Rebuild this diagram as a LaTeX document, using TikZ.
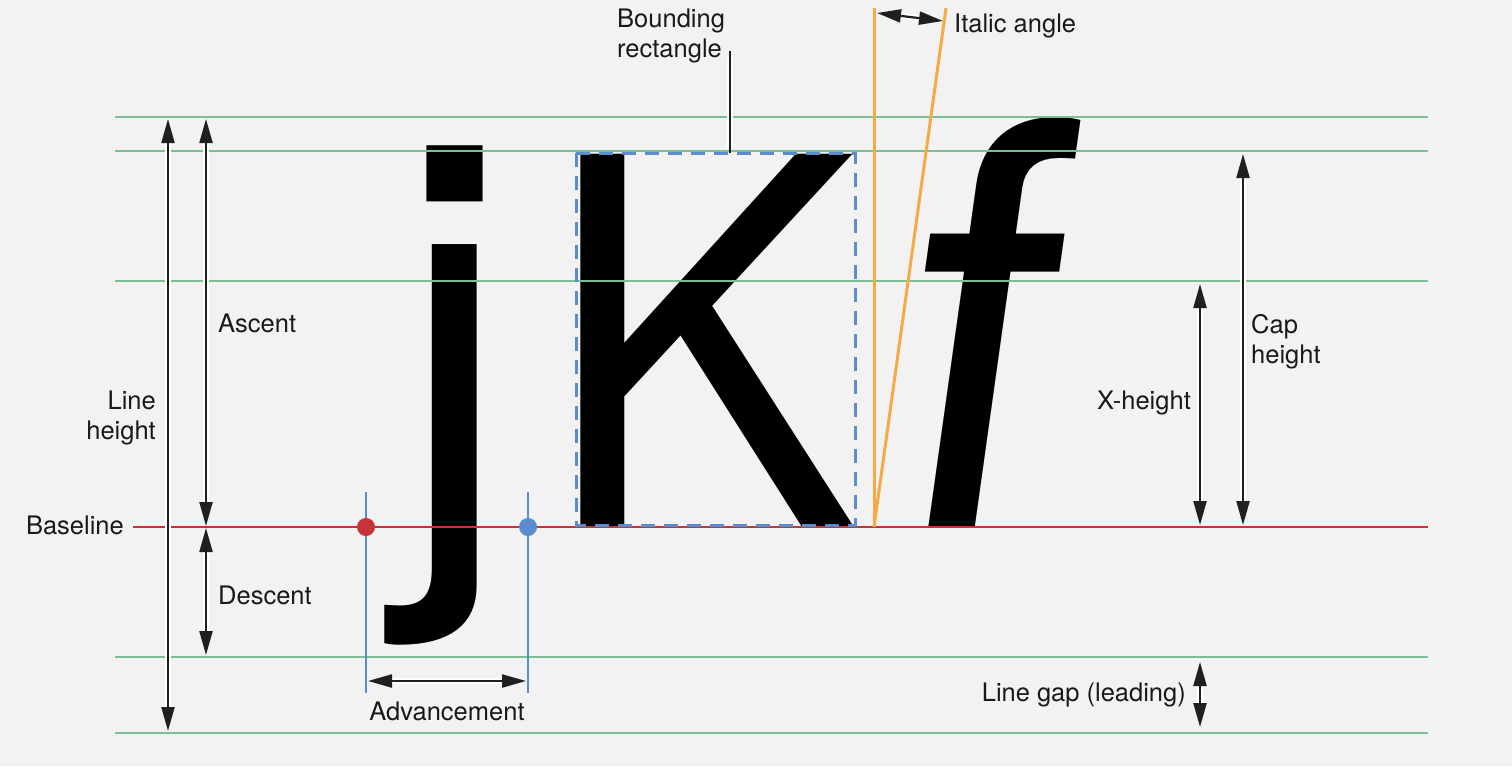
\documentclass[tikz,border=0pt]{standalone}
\usepackage{fontspec}
\setmainfont{TeX Gyre Heros}
\newfontfamily\glyphfont{TeX Gyre Heros}
\newfontfamily\slantfont[FakeSlant=0.14]{TeX Gyre Heros}
\usetikzlibrary{arrows.meta}
\definecolor{bggray}{RGB}{242,242,242}
\definecolor{guidegreen}{RGB}{125,190,150}
\definecolor{baselinered}{RGB}{200,50,58}
\definecolor{markblue}{RGB}{92,140,205}
\definecolor{angleorange}{RGB}{246,170,70}
\tikzset{
  guide/.style={guidegreen, line width=2.5pt},
  dimarrow/.style={
    {Triangle[length=24pt,width=13pt]}-{Triangle[length=24pt,width=13pt]},
    line width=2.2pt, black!88,
    preaction={-, draw=white, line width=6.5pt, shorten <=9pt, shorten >=9pt}
  },
  leader/.style={line width=2pt, black!88,
    preaction={draw=white, line width=6pt, shorten <=6pt, shorten >=6pt}},
  lbl/.style={font=\fontsize{25.5}{30}\selectfont, inner sep=0pt, text=black!90},
  glyph/.style={inner sep=0pt, anchor=base west}
}

\begin{document}
\begin{tikzpicture}[x=1pt, y=-1pt]

\fill[bggray] (0,0) rectangle (1512,766);
\useasboundingbox (0,0) rectangle (1512,766);

% Glyphs
\node[glyph] (jay) at (394,527) {\glyphfont\fontsize{540}{540}\selectfont j};
\node[glyph, xscale=0.923] (kay) at (543,527) {\glyphfont\fontsize{512}{512}\selectfont K};
\node[glyph] (eff) at (879,527) {\slantfont\fontsize{560}{560}\selectfont f};

% Guide lines
\foreach \gy in {117,151,281,657,733}
  \draw[guide] (115,\gy) -- (1428,\gy);

% Baseline
\draw[baselinered, line width=2.5pt] (133,527) -- (1428,527);
\node[lbl, anchor=east] (baselinelbl) at (124,525) {Baseline};

% Key points
\coordinate (top) at (168,119);
\coordinate (bottom) at (168,731);
\coordinate (asctop) at (206,119);
\coordinate (ascbase) at (206,526);
\coordinate (descbase) at (206,528);
\coordinate (descbot) at (206,655);

% Line height, ascent, descent
\draw[dimarrow] (top) -- (bottom);
\node[lbl, anchor=east, align=right] (lineheight) at (156,418) {Line\\height};
\draw[dimarrow] (asctop) -- (ascbase);
\node[lbl, anchor=west] (ascent) at (218,323) {Ascent};
\draw[dimarrow] (descbase) -- (descbot);
\node[lbl, anchor=west] (descent) at (218,595) {Descent};

% Advancement
\draw[markblue, line width=2pt] (366,492) -- (366,693);
\draw[markblue, line width=2pt] (528,492) -- (528,693);
\fill[baselinered] (366,527) circle (9pt);
\fill[markblue] (528,527) circle (9pt);
\coordinate (advleft) at (368,681);
\coordinate (advright) at (526,681);
\draw[dimarrow] (advleft) -- (advright);
\node[lbl] (advancement) at (447,711) {Advancement};

% Bounding rectangle
\draw[markblue, line width=3pt, dash pattern=on 14pt off 9pt] (576,153) rectangle (855,525);
\node[lbl, anchor=west, align=left] (boundlbl) at (617,36) {Bounding\\rectangle};
\coordinate (boundtop) at (730,51);
\coordinate (boundfoot) at (730,153);
\draw[leader] (boundtop) -- (boundfoot);

% Italic angle
\coordinate (slantfoot) at (874,527);
\coordinate (uprighttop) at (874,8);
\coordinate (slanttop) at (946,8);
\draw[angleorange, line width=3pt] (slantfoot) -- (uprighttop);
\draw[angleorange, line width=3pt] (slantfoot) -- (slanttop);
\coordinate (angleleft) at (877,13);
\coordinate (angleright) at (943,21);
\draw[dimarrow] (angleleft) -- (angleright);
\node[lbl, anchor=west] (italiclbl) at (954,26) {Italic angle};

% X-height and cap height
\coordinate (xtop) at (1200,284);
\coordinate (xbase) at (1200,525);
\draw[dimarrow] (xtop) -- (xbase);
\node[lbl, anchor=east] (xheight) at (1191,403) {X-height};
\coordinate (captop) at (1243,154);
\coordinate (capbase) at (1243,525);
\draw[dimarrow] (captop) -- (capbase);
\node[lbl, anchor=west, align=left] (capheight) at (1251,342) {Cap\\height};

% Line gap
\coordinate (gaptop) at (1200,662);
\coordinate (gapbot) at (1200,727);
\draw[dimarrow] (gaptop) -- (gapbot);
\node[lbl, anchor=east] (linegap) at (1186,695) {Line gap (leading)};

\end{tikzpicture}
\end{document}
